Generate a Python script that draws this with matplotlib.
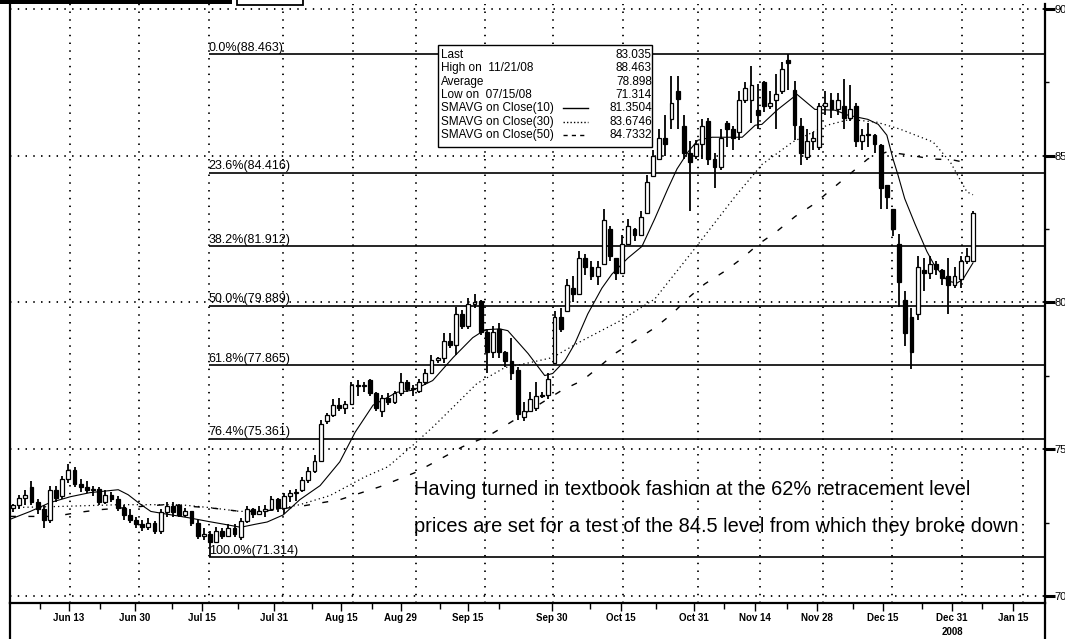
import numpy as np
import matplotlib
matplotlib.use("Agg")
import matplotlib.pyplot as plt
from matplotlib import font_manager
from matplotlib.patches import Rectangle
from matplotlib.lines import Line2D

# daily bars, 157 sessions (bar index = trading day from early June 2008)
opens = [73.0, 73.1, 73.35, 73.7, 73.2, 72.95, 72.6, 73.6, 73.4, 74.0,
         74.3, 73.8, 73.7, 73.6, 73.65, 73.2, 73.45, 73.3, 73.0, 72.75,
         72.6, 72.45, 72.35, 72.5, 72.2, 72.85, 73.05, 73.1, 72.75, 72.9,
         72.5, 72.05, 72.1, 71.85, 72.2, 72.05, 72.3, 72.0, 72.55, 72.95,
         72.8, 72.9, 72.95, 73.3, 73.0, 73.4, 73.5, 73.6, 73.95, 74.25,
         74.6, 75.95, 76.15, 76.5, 76.4, 76.55, 77.2, 77.15, 77.35, 76.9,
         76.3, 76.75, 76.6, 76.9, 77.3, 77.05, 77.0, 77.3, 77.6, 78.05,
         78.1, 78.7, 78.55, 79.6, 79.2, 79.95, 80.05, 79.0, 78.3, 79.1,
         78.3, 78.0, 77.7, 76.1, 76.3, 76.4, 76.8, 76.85, 77.95, 79.5,
         79.7, 80.5, 80.3, 81.5, 81.2, 80.9, 81.3, 82.5, 81.5, 81.0,
         82.0, 82.5, 82.3, 83.05, 84.3, 84.9, 85.6, 86.25, 87.2, 86.0,
         85.1, 85.0, 85.4, 86.2, 84.9, 84.6, 86.1, 85.9, 85.8, 86.9,
         86.9, 86.55, 87.5, 86.7, 86.9, 87.2, 88.25, 87.25, 86.0, 84.95,
         85.5, 85.3, 86.7, 86.9, 86.6, 86.7, 86.3, 86.7, 85.5, 85.7,
         85.7, 85.35, 84.0, 83.2, 82.0, 80.1, 79.5, 79.6, 81.1, 81.0,
         81.3, 81.1, 80.9, 80.6, 80.8, 81.4, 81.4]
highs = [73.15, 73.45, 73.6, 73.9, 73.3, 73.1, 73.75, 73.75, 74.1, 74.5,
         74.4, 74.0, 73.9, 73.75, 73.7, 73.6, 73.55, 73.4, 73.1, 72.95,
         72.7, 72.6, 72.65, 72.55, 72.95, 73.2, 73.2, 73.15, 73.0, 72.9,
         72.6, 72.3, 72.2, 72.35, 72.3, 72.45, 72.45, 72.65, 73.05, 73.0,
         73.05, 73.1, 73.4, 73.35, 73.5, 73.6, 73.65, 74.05, 74.4, 74.8,
         76.0, 76.25, 76.7, 76.75, 76.65, 77.3, 77.35, 77.3, 77.4, 76.95,
         76.85, 76.9, 77.0, 77.6, 77.35, 77.2, 77.4, 77.75, 78.2, 78.15,
         78.95, 78.95, 79.85, 79.75, 80.15, 80.3, 80.1, 79.1, 79.2, 79.3,
         78.35, 78.8, 77.8, 76.6, 76.95, 77.3, 76.95, 77.6, 79.7, 79.8,
         80.8, 80.9, 81.75, 81.65, 81.4, 81.4, 83.2, 82.6, 81.5, 82.3,
         82.85, 82.55, 83.1, 84.35, 85.2, 85.9, 86.4, 87.7, 87.7, 86.4,
         85.5, 85.55, 86.25, 86.3, 85.1, 85.9, 86.2, 86.0, 87.2, 87.5,
         88.05, 87.45, 87.55, 87.2, 87.8, 88.2, 88.463, 87.55, 86.3, 85.9,
         85.8, 86.8, 87.2, 87.15, 87.15, 87.6, 87.4, 86.8, 85.9, 86.1,
         85.75, 85.4, 84.0, 83.2, 82.35, 80.4, 79.8, 81.6, 81.5, 81.6,
         81.4, 81.15, 81.5, 81.2, 81.6, 81.85, 83.1]
lows = [72.85, 72.95, 73.1, 73.1, 72.8, 72.3, 72.5, 73.2, 73.3, 73.85,
        73.7, 73.55, 73.5, 73.4, 73.1, 73.15, 73.2, 72.9, 72.6, 72.5,
        72.3, 72.2, 72.25, 72.1, 72.1, 72.7, 72.7, 72.7, 72.7, 72.4,
        71.95, 71.9, 71.314, 71.8, 71.95, 72.0, 72.0, 71.9, 72.5, 72.65,
        72.75, 72.7, 72.9, 72.85, 72.8, 73.2, 73.25, 73.55, 73.85, 74.2,
        74.55, 75.85, 76.1, 76.3, 76.2, 76.5, 76.8, 76.95, 76.8, 76.3,
        76.1, 76.5, 76.55, 76.8, 76.95, 76.8, 76.9, 77.2, 77.55, 77.95,
        77.95, 78.45, 78.2, 79.1, 79.1, 79.8, 78.9, 77.6, 78.1, 78.1,
        77.8, 77.35, 76.0, 75.95, 76.3, 76.3, 76.75, 76.7, 77.9, 79.0,
        79.7, 80.0, 80.3, 80.95, 80.75, 80.6, 81.3, 81.4, 80.75, 81.0,
        81.95, 82.1, 82.3, 83.0, 84.3, 84.9, 85.0, 85.9, 85.9, 84.9,
        83.1, 84.9, 84.9, 84.7, 83.9, 84.5, 85.3, 85.2, 85.55, 86.8,
        86.1, 85.9, 86.5, 86.6, 85.9, 87.1, 87.25, 85.55, 84.7, 84.85,
        85.2, 85.2, 86.4, 86.3, 86.4, 85.9, 86.2, 85.3, 85.2, 85.3,
        85.1, 83.2, 83.2, 82.25, 79.85, 78.5, 77.75, 79.4, 80.4, 80.8,
        80.95, 80.6, 79.6, 80.5, 80.5, 81.3, 81.4]
closes = [73.1, 73.35, 73.45, 73.2, 72.95, 72.6, 73.6, 73.35, 74.0, 74.3,
          73.8, 73.7, 73.6, 73.65, 73.2, 73.45, 73.3, 73.0, 72.75, 72.6,
          72.45, 72.35, 72.5, 72.2, 72.85, 73.05, 72.85, 72.75, 72.9, 72.5,
          72.05, 72.1, 71.85, 72.2, 72.05, 72.3, 72.1, 72.55, 72.95, 72.8,
          72.9, 72.95, 73.3, 73.0, 73.4, 73.5, 73.55, 73.95, 74.25, 74.6,
          75.85, 76.15, 76.5, 76.4, 76.55, 77.2, 77.15, 77.2, 76.9, 76.4,
          76.75, 76.6, 76.9, 77.3, 77.05, 77.1, 77.3, 77.6, 78.05, 78.1,
          78.7, 78.55, 79.6, 79.2, 79.95, 80.0, 79.0, 78.3, 79.0, 78.3,
          78.0, 77.6, 76.2, 76.3, 76.7, 76.8, 76.85, 77.4, 79.5, 79.1,
          80.6, 80.3, 81.5, 81.2, 80.9, 81.2, 82.8, 81.6, 81.0, 82.0,
          82.6, 82.3, 82.9, 84.1, 85.0, 85.6, 85.4, 86.8, 86.95, 85.1,
          84.8, 85.4, 86.0, 84.9, 84.6, 85.6, 85.9, 85.6, 86.9, 87.3,
          87.4, 86.4, 86.7, 86.8, 87.1, 87.95, 88.15, 86.05, 85.1, 85.5,
          85.6, 86.7, 86.8, 86.6, 86.9, 86.3, 86.6, 85.5, 85.7, 85.75,
          85.4, 83.9, 83.6, 82.5, 80.7, 78.95, 78.3, 81.2, 81.0, 81.3,
          81.15, 80.85, 80.6, 80.9, 81.4, 81.6, 83.035]

# moving averages (bar index, value)
sma10_x = [-0.5, 2.8, 6.0, 9.3, 12.5, 17.1, 18.7, 20.8, 22.4, 25.2, 28.4, 31.7, 34.4, 37.0,
           39.3, 41.3, 43.9, 46.6, 49.9, 53.1, 55.6, 58.5, 62.4, 65.0, 68.2, 71.5, 74.7,
           76.7, 79.1, 80.4, 83.7, 86.4, 87.7, 89.7, 91.3, 93.4, 95.7, 97.3, 99.9, 102.2,
           104.3, 106.4, 107.9, 109.7, 111.3, 113.6, 116.2, 118.5, 120.6, 121.7, 124.3,
           127.4, 130.3, 133.6, 135.7, 138.9, 140.6, 142.0, 143.0, 143.8, 144.9, 146.6,
           148.5, 149.8, 151.9, 153.4, 154.4, 156.0]
sma10_y = [72.61, 72.88, 73.18, 73.38, 73.52, 73.62, 73.45, 73.11, 72.88, 72.78, 72.67, 72.54,
           72.44, 72.34, 72.44, 72.52, 72.76, 73.28, 73.76, 74.57, 75.58, 76.50, 76.94, 77.01,
           77.34, 78.12, 78.80, 79.07, 79.10, 79.04, 78.26, 77.51, 77.58, 78.02, 78.60, 79.61,
           80.49, 80.96, 81.51, 81.91, 82.86, 83.87, 84.55, 85.13, 85.53, 85.63, 85.63, 85.63,
           86.04, 86.07, 86.58, 87.09, 86.58, 86.55, 86.38, 86.24, 86.07, 85.70, 84.89, 84.35,
           83.54, 82.66, 81.74, 81.24, 80.73, 80.66, 80.80, 81.35]
sma30_x = [-0.5, 7.6, 17.4, 27.1, 32.0, 36.9, 41.8, 46.6, 51.5, 57.2, 60.9, 65.0, 68.2, 71.5,
           75.4, 79.9, 84.0, 87.6, 92.5, 98.6, 104.3, 110.8, 117.3, 121.7, 126.7, 132.3,
           136.0, 140.4, 144.1, 149.5, 152.3, 155.0, 156.0]
sma30_y = [73.01, 73.05, 73.11, 73.11, 73.01, 72.88, 72.91, 73.11, 73.42, 74.06, 74.40, 75.14,
           75.75, 76.43, 77.24, 77.78, 77.95, 78.12, 78.70, 79.37, 80.12, 81.84, 83.60, 84.70,
           85.47, 86.04, 86.24, 86.14, 85.91, 85.47, 84.79, 83.77, 83.67]
sma50_x = [-0.5, 6.8, 10.4, 14.1, 20.8, 24.7, 31.7, 37.0, 40.3, 46.6, 53.1, 59.6, 65.3, 68.6,
           73.0, 77.2, 79.6, 85.3, 89.2, 92.5, 95.1, 97.8, 101.1, 104.3, 107.1, 109.7, 112.4,
           115.7, 118.5, 121.1, 124.1, 127.1, 130.0, 133.1, 136.0, 138.9, 142.0, 145.4, 149.3,
           152.7, 155.8]
sma50_y = [72.71, 72.71, 72.84, 72.94, 73.05, 73.11, 73.01, 72.88, 72.88, 73.05, 73.28, 73.72,
           74.20, 74.57, 75.08, 75.45, 75.75, 76.50, 77.01, 77.34, 77.78, 78.26, 78.70, 79.14,
           79.61, 80.15, 80.63, 81.07, 81.51, 81.98, 82.42, 82.93, 83.33, 83.87, 84.38, 84.89,
           85.13, 85.03, 84.89, 84.86, 84.72]

fib_pct = ["0.0%", "23.6%", "38.2%", "50.0%", "61.8%", "76.4%", "100.0%"]
fib_val = [88.463, 84.416, 81.912, 79.889, 77.865, 75.361, 71.314]

tick_pos = [9.1, 19.8, 30.7, 42.4, 53.3, 63.0, 73.9, 87.6, 98.8, 110.7, 120.6, 130.6, 141.4, 152.6, 162.5]
tick_labels = ["Jun 13", "Jun 30", "Jul 15", "Jul 31", "Aug 15", "Aug 29", "Sep 15", "Sep 30",
               "Oct 15", "Oct 31", "Nov 14", "Nov 28", "Dec 15", "Dec 31", "Jan 15"]
minor_pos = [4.4, 14.1, 25.8, 36.6, 48.6, 58.3, 69.4, 79.0, 93.8, 104.5, 115.5, 125.8, 136.5, 147.7, 157.5]
grid_pos = [9.26, 20.47, 31.85, 43.87, 55.25, 65.49, 76.70, 87.75, 99.12, 111.31, 121.38,
            131.62, 142.83, 154.21, 164.12]

legend_names = ["Last", "High on  11/21/08", "Average", "Low on  07/15/08",
                "SMAVG on Close(10)", "SMAVG on Close(30)", "SMAVG on Close(50)"]
legend_values = ["83.035", "88.463", "78.898", "71.314", "81.3504", "83.6746", "84.7332"]

note_lines = ["Having turned in textbook fashion at the 62% retracement level",
              "prices are set for a test of the 84.5 level from which they broke down"]

installed = {f.name for f in font_manager.fontManager.ttflist}
NARROW = "Liberation Sans Narrow" if "Liberation Sans Narrow" in installed else "Liberation Sans"
plt.rcParams["font.family"] = ["Liberation Sans", "DejaVu Sans"]

W, H = 1065, 639
fig = plt.figure(figsize=(W / 100, H / 100), dpi=100)
ax = fig.add_axes([10 / W, (H - 603) / H, 1035 / W, 599 / H])

n = len(closes)
x = np.arange(n)
o, h, l, c = map(np.array, (opens, highs, lows, closes))

ax.set_xlim(-0.49, 167.7)
ax.set_ylim(69.76, 90.17)

dotted = (0, (0.8, 3.5))
for gx in grid_pos:
    ax.axvline(gx, color="black", lw=1.3, ls=dotted, zorder=1)
for gy in [70, 75, 80, 85, 90]:
    ax.axhline(gy, color="black", lw=1.3, ls=dotted, zorder=1)

# retracement levels from the July low
fib_start = int(np.argmin(l)) - 0.2
ax.hlines(fib_val, fib_start, 167.7, color="black", lw=1.2, zorder=2)
for p, v in zip(fib_pct, fib_val):
    ax.text(fib_start, v + 0.02, f"{p}({v:.3f})", fontsize=9, ha="left", va="bottom",
            family=[NARROW, "DejaVu Sans"], zorder=6)

ax.plot(sma10_x, sma10_y, color="black", lw=0.8, zorder=3)
ax.plot(sma30_x, sma30_y, color="black", lw=0.9, ls=(0, (1, 2.5)), zorder=3)
ax.plot(sma50_x, sma50_y, color="black", lw=1.0, ls=(0, (4.3, 9)), zorder=3)

# candles
ax.vlines(x, l, h, color="black", lw=1.3, zorder=4)
up = c >= o
body_lo = np.minimum(o, c)
body_h = np.maximum(np.abs(c - o), 0.03)
ax.bar(x, body_h, bottom=body_lo, width=0.62,
       color=np.where(up, "white", "black"), edgecolor="black", lw=0.9, zorder=5)

# axes styling
ax.spines["top"].set_visible(False)
for side in ["left", "right", "bottom"]:
    ax.spines[side].set_linewidth(1.6)
ax.yaxis.tick_right()
ax.set_yticks([70, 75, 80, 85, 90])
ax.set_yticks([72.5, 77.5, 82.5, 87.5], minor=True)
ax.tick_params(axis="y", which="major", length=7, width=2.2, pad=0, labelsize=8)
ax.tick_params(axis="y", which="minor", length=3, width=1)
ax.set_xticks(tick_pos)
ax.set_xticklabels(tick_labels, family=[NARROW, "DejaVu Sans"], fontweight="bold", fontsize=7)
ax.set_xticks(minor_pos, minor=True)
ax.tick_params(axis="x", which="major", length=6, width=1, pad=1)
ax.tick_params(axis="x", which="minor", length=4, width=1)
ax.text(tick_pos[13], -0.048, "2008", transform=ax.get_xaxis_transform(), ha="center",
        va="center", fontsize=7, fontweight="bold", family=[NARROW, "DejaVu Sans"])

# frame lines running down to the bottom edge
for px in (10, 1045):
    fig.add_artist(Line2D([px / W, px / W], [0, (H - 603) / H], color="black", lw=1.6))
# header remnants
fig.add_artist(Rectangle((0, (H - 4) / H), 232 / W, 4 / H, transform=fig.transFigure,
                         facecolor="black", edgecolor="none"))
fig.add_artist(Rectangle((237 / W, (H - 5) / H), 66 / W, 6 / H, transform=fig.transFigure,
                         facecolor="white", edgecolor="black", lw=1.3))

# legend box
bx0, bx1 = (438 - 10) / 1035, (652 - 10) / 1035
by_top, by_bot = 1 - (45 - 4) / 599, 1 - (147 - 4) / 599
ax.add_patch(Rectangle((bx0, by_bot), bx1 - bx0, by_top - by_bot, transform=ax.transAxes,
                       facecolor="white", edgecolor="black", lw=1.0, zorder=7))
styles = [None, None, None, None, "-", (0, (1, 1.5)), (0, (3, 3))]
for k, (name, val, st) in enumerate(zip(legend_names, legend_values, styles)):
    yy = 1 - (55 - 4 + 13.35 * k) / 599
    ax.text((441 - 10) / 1035, yy, name, transform=ax.transAxes, fontsize=8.5,
            va="center", ha="left", zorder=8, family=[NARROW, "DejaVu Sans"])
    ax.text((652 - 10) / 1035, yy, val, transform=ax.transAxes, fontsize=8.5,
            va="center", ha="right", zorder=8, family=[NARROW, "DejaVu Sans"])
    if st is not None:
        ax.add_line(Line2D([(563 - 10) / 1035, (588 - 10) / 1035], [yy, yy], transform=ax.transAxes,
                           color="black", lw=1.0, ls=st, zorder=8))

# commentary
t1 = ax.text(65.2, 73.62, note_lines[0], fontsize=14, ha="left", va="center", zorder=6,
             family=[NARROW, "DejaVu Sans"])
t2 = ax.text(65.2, 72.35, note_lines[1], fontsize=14, ha="left", va="center", zorder=6,
             family=[NARROW, "DejaVu Sans"])
fig.canvas.draw()
size = 14 * 608 / t2.get_window_extent().width
t1.set_fontsize(size)
t2.set_fontsize(size)

fig.savefig("out.png", dpi=100)
